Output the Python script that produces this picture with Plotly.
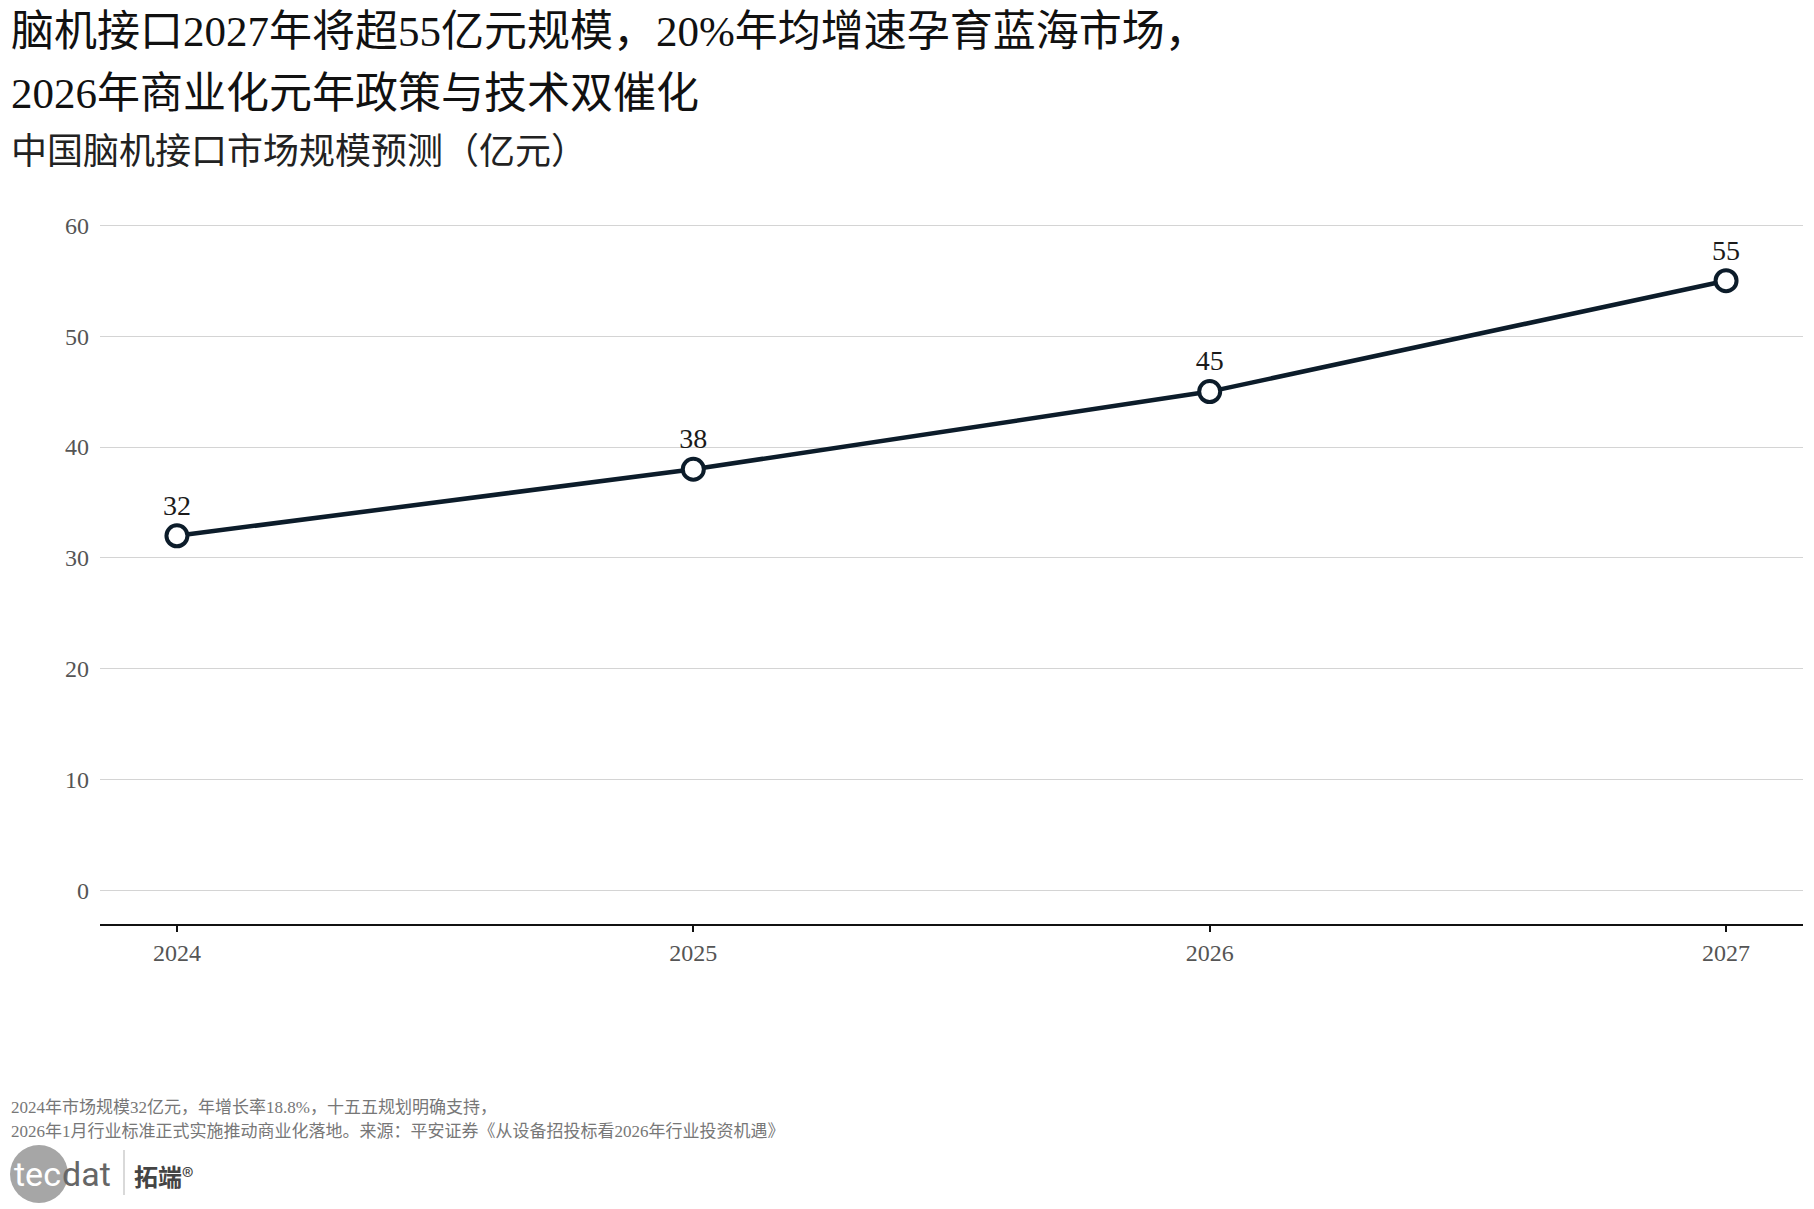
import plotly.graph_objects as go

years = [2024, 2025, 2026, 2027]
market_size = [32, 38, 45, 55]
y_ticks = [0, 10, 20, 30, 40, 50, 60]
x_ticks = [2024, 2025, 2026, 2027]

title_line1 = "脑机接口2027年将超55亿元规模，20%年均增速孕育蓝海市场，"
title_line2 = "2026年商业化元年政策与技术双催化"
subtitle = "中国脑机接口市场规模预测（亿元）"
note_line1 = "2024年市场规模32亿元，年增长率18.8%，十五五规划明确支持，"
note_line2 = "2026年1月行业标准正式实施推动商业化落地。来源：平安证券《从设备招投标看2026年行业投资机遇》"

OFF = 8  # page body margin
W, H = 1814 - OFF, 1209 - OFF
ML, MR, MT, MB = 100 - OFF, 11, 223 - OFF, 285
PW = W - ML - MR
PH = H - MT - MB
FONT = "Liberation Serif, Noto Sans CJK SC, serif"
CJK = "Noto Sans CJK SC, sans-serif"

def px(x):
    return (x - OFF - ML) / PW

def py(y):
    return (H - MB - (y - OFF)) / PH

line_color = "#0c1c2a"

fig = go.Figure()
fig.add_trace(go.Scatter(
    x=years, y=market_size,
    mode="lines+markers+text",
    line=dict(color=line_color, width=4.5),
    marker=dict(size=21, color="white", line=dict(color=line_color, width=4)),
    text=[str(v) for v in market_size],
    textposition="top center",
    textfont=dict(family=FONT, size=28, color="#1a1a1a"),
    hoverinfo="x+y",
    showlegend=False,
    cliponaxis=False,
))

fig.update_layout(
    width=W, height=H, autosize=False,
    margin=dict(l=ML, r=MR, t=MT, b=MB, pad=0),
    paper_bgcolor="white", plot_bgcolor="white",
    font=dict(family=FONT, color="#333"),
    xaxis=dict(
        range=[2023.851, 2027.149],
        tickmode="array", tickvals=x_ticks, ticktext=[str(t) for t in x_ticks],
        showgrid=False, zeroline=False,
        showline=True, linecolor="#111", linewidth=2,
        ticks="outside", ticklen=6, tickwidth=2, tickcolor="#111",
        tickfont=dict(family=FONT, size=24, color="#555"),
    ),
    yaxis=dict(
        range=[-3, 60.2],
        tickmode="array", tickvals=y_ticks, ticktext=[str(t) for t in y_ticks],
        showgrid=True, gridcolor="#d4d4d4", gridwidth=1.3,
        zeroline=False, showline=False, ticks="",
        ticklabelstandoff=10,
        tickfont=dict(family=FONT, size=24, color="#555"),
    ),
)

LEFT = OFF + 1
annotations = [
    dict(text=title_line1, x=px(LEFT), y=py(31), size=43, color="#111"),
    dict(text=title_line2, x=px(LEFT), y=py(93), size=43, color="#111"),
    dict(text=subtitle, x=px(LEFT), y=py(152), size=36, color="#222"),
    dict(text=note_line1, x=px(LEFT), y=py(1107), size=17, color="#777"),
    dict(text=note_line2, x=px(LEFT), y=py(1131), size=17, color="#777"),
]
for a in annotations:
    fig.add_annotation(
        text=a["text"], x=a["x"], y=a["y"], xref="paper", yref="paper",
        xanchor="left", yanchor="middle", showarrow=False,
        font=dict(family=FONT, size=a["size"], color=a["color"]),
    )

# logo
fig.add_shape(type="circle", xref="paper", yref="paper",
              x0=px(10), x1=px(68), y0=py(1203), y1=py(1145),
              fillcolor="#a6a6a6", line=dict(width=0))
fig.add_annotation(text="tec", x=px(12), y=py(1174), xref="paper", yref="paper",
                   xanchor="left", yanchor="middle", showarrow=False,
                   font=dict(family="Roboto, sans-serif", size=34, color="white"))
fig.add_annotation(text="dat", x=px(60), y=py(1174), xref="paper", yref="paper",
                   xanchor="left", yanchor="middle", showarrow=False,
                   font=dict(family="Roboto, sans-serif", size=34, color="#666"))
fig.add_shape(type="line", xref="paper", yref="paper",
              x0=px(124), x1=px(124), y0=py(1195), y1=py(1150),
              line=dict(color="#cccccc", width=1.5))
fig.add_annotation(text="<b>拓端</b>®", x=px(132), y=py(1175), xref="paper", yref="paper",
                   xanchor="left", yanchor="middle", showarrow=False,
                   font=dict(family=CJK, size=24, color="#444"))

fig.write_html("out.html")
